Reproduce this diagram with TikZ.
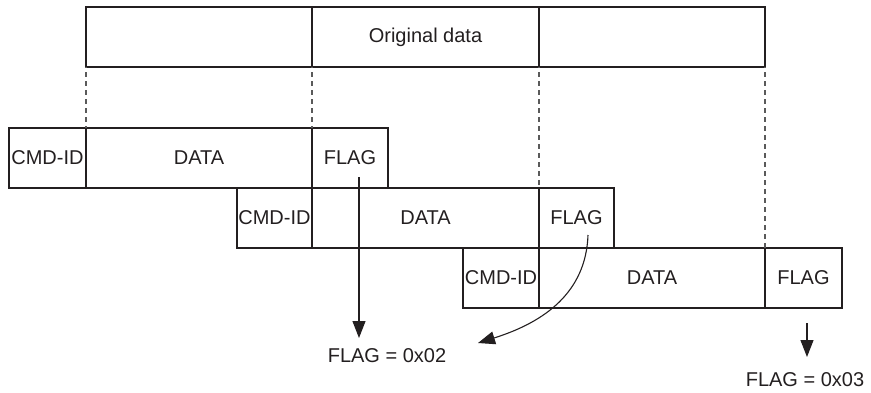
\documentclass[tikz,border=0pt]{standalone}
\usepackage{fontspec}
\setmainfont{Liberation Sans}
\usetikzlibrary{arrows.meta}
\definecolor{ink}{HTML}{231F20}
\definecolor{guidegray}{HTML}{5A5A5A}
\begin{document}
\begin{tikzpicture}[x=1pt,y=-1pt,
  box/.style={draw=ink,line width=2pt,minimum height=60pt,inner sep=0pt,outer sep=0pt,
    anchor=north west,text=ink,font=\fontsize{20}{22}\selectfont},
  guide/.style={draw=guidegray,line width=1.5pt,dash pattern=on 5pt off 4pt,dash phase=-5pt},
  arr/.style={draw=ink,line width=1.1pt,-{Triangle[length=17pt,width=13pt]}},
  lbl/.style={text=ink,inner sep=0pt,font=\fontsize{20}{22}\selectfont}]
\useasboundingbox (0,0) rectangle (871,392);
% original data
\node[box,minimum width=226pt] (t1) at (86,7) {};
\node[box,minimum width=227pt] (t2) at (312,7) {Original data};
\node[box,minimum width=226pt] (t3) at (539,7) {};
% row 1
\node[box,minimum width=77pt] (c1) at (9,128) {CMD-ID};
\node[box,minimum width=226pt] (d1) at (86,128) {DATA};
\node[box,minimum width=76pt] (f1) at (312,128) {FLAG};
% row 2
\node[box,minimum width=75pt] (c2) at (237,188) {CMD-ID};
\node[box,minimum width=227pt] (d2) at (312,188) {DATA};
\node[box,minimum width=75pt] (f2) at (539,188) {FLAG};
% row 3
\node[box,minimum width=76pt] (c3) at (463,248) {CMD-ID};
\node[box,minimum width=226pt] (d3) at (539,248) {DATA};
\node[box,minimum width=77pt] (f3) at (765,248) {FLAG};
% guides
\draw[guide] (t1.south west) -- (d1.north west);
\draw[guide] (t2.south west) -- (f1.north west);
\draw[guide] (t3.south west) -- (f2.north west);
\draw[guide] (t3.south east) -- (f3.north west);
% labels
\node[lbl] (l2) at (387,356) {FLAG = 0x02};
\node[lbl] (l3) at (805,380) {FLAG = 0x03};
% arrows
\coordinate (s1) at (359,177);
\coordinate (e1) at (359,338);
\coordinate (s2) at (588,235);
\coordinate (e2) at (478,343);
\coordinate (s3) at (807,323);
\coordinate (e3) at (807,357);
\draw[arr] (s1) -- (e1);
\draw[arr] (s2) .. controls (586,292) and (545,322) .. (e2);
\draw[arr] (s3) -- (e3);
\end{tikzpicture}
\end{document}
